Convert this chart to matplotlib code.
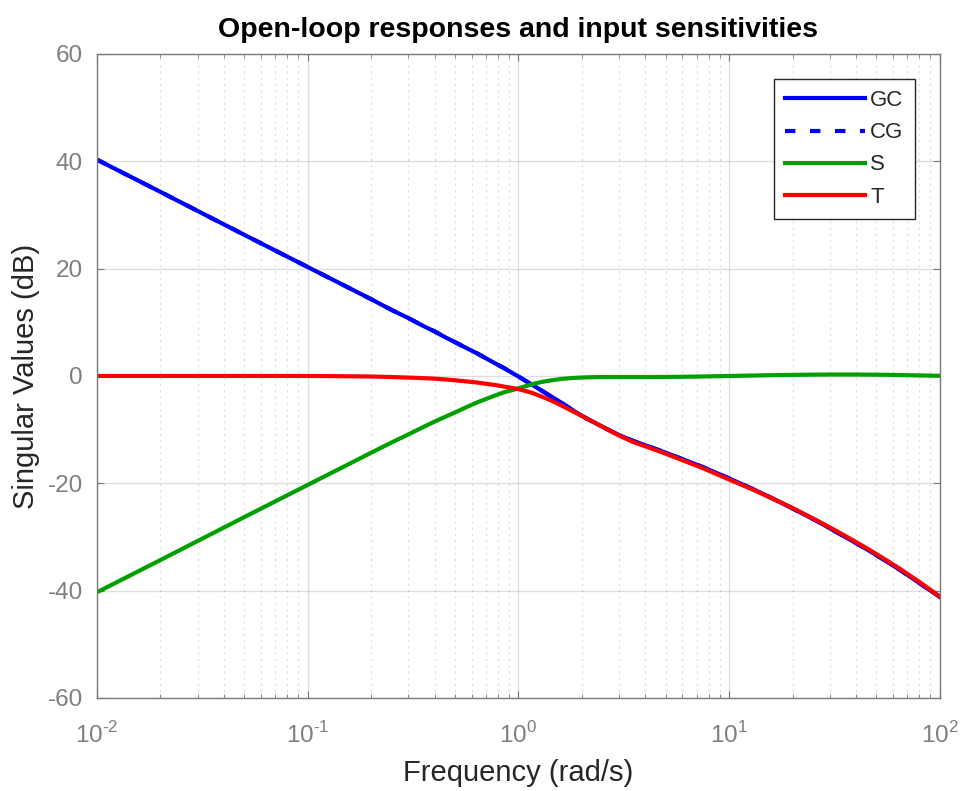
import matplotlib.pyplot as plt
from matplotlib.ticker import LogLocator, NullFormatter, FixedLocator, FixedFormatter

plt.rcParams['font.family'] = ['Liberation Sans', 'DejaVu Sans']
plt.rcParams['axes.unicode_minus'] = False
plt.rcParams['mathtext.fontset'] = 'custom'
plt.rcParams['mathtext.rm'] = 'Liberation Sans'

freq = [0.01, 0.02, 0.05, 0.1, 0.15, 0.2, 0.25, 0.3, 0.35, 0.4, 0.45, 0.5, 0.56, 0.63, 0.7, 0.78,
        0.86, 0.94, 1.0, 1.08, 1.17, 1.26, 1.36, 1.47, 1.6, 1.75, 1.9, 2.1, 2.3, 2.6, 3.0, 3.5, 4.2,
        5.0, 6.0, 7.3, 8.5, 10.0, 13.0, 16.0, 20.0, 26.0, 32.0, 37.4, 45.0, 54.0, 65.0, 80.0, 100.0]

gc = [40.3, 34.3, 26.3, 20.3, 16.8, 14.3, 12.3, 10.8, 9.4, 8.3, 7.2, 6.3, 5.3, 4.3, 3.3, 2.3,
      1.4, 0.5, -0.1, -0.9, -1.7, -2.5, -3.3, -4.1, -5.0, -6.0, -6.9, -7.9, -8.7, -9.8, -11.0, -12.1, -13.2,
      -14.3, -15.5, -16.8, -17.9, -19.1, -21.1, -22.8, -24.7, -27.0, -29.0, -30.5, -32.3, -34.2, -36.2, -38.6, -41.2]

cg = [40.3, 34.3, 26.3, 20.3, 16.8, 14.3, 12.3, 10.8, 9.4, 8.3, 7.2, 6.3, 5.3, 4.3, 3.3, 2.3,
      1.4, 0.5, -0.1, -0.9, -1.7, -2.5, -3.3, -4.1, -5.0, -6.0, -6.9, -7.9, -8.7, -9.8, -11.0, -12.1, -13.2,
      -14.3, -15.5, -16.8, -17.9, -19.1, -21.1, -22.8, -24.7, -27.0, -29.0, -30.5, -32.3, -34.2, -36.2, -38.6, -41.2]

s = [-40.3, -34.3, -26.3, -20.3, -16.8, -14.3, -12.4, -10.9, -9.6, -8.5, -7.6, -6.8, -5.9, -5.0, -4.3, -3.6,
     -3.0, -2.6, -2.3, -1.9, -1.5, -1.2, -0.95, -0.75, -0.55, -0.42, -0.33, -0.26, -0.22, -0.2, -0.2, -0.2, -0.2,
     -0.18, -0.15, -0.1, -0.05, 0.0, 0.08, 0.15, 0.2, 0.25, 0.27, 0.27, 0.25, 0.22, 0.17, 0.1, 0.03]

t = [0.0, 0.0, 0.0, 0.0, -0.05, -0.1, -0.2, -0.3, -0.4, -0.5, -0.65, -0.8, -1.0, -1.2, -1.45, -1.7,
     -2.0, -2.25, -2.45, -2.8, -3.2, -3.7, -4.2, -4.8, -5.5, -6.3, -7.0, -7.9, -8.7, -9.8, -11.1, -12.3, -13.4,
     -14.5, -15.7, -17.0, -18.1, -19.3, -21.2, -22.8, -24.6, -26.9, -28.8, -30.3, -32.1, -34.0, -36.0, -38.4, -41.1]

xticks = [0.01, 0.1, 1, 10, 100]
xticklabels = [r'$10^{\text{-}2}$', r'$10^{\text{-}1}$', r'$10^{0}$', r'$10^{1}$', r'$10^{2}$']
yticks = [-60, -40, -20, 0, 20, 40, 60]

fig = plt.figure(figsize=(9.66, 7.91), dpi=100)
ax = fig.add_axes([0.1004, 0.1176, 0.8726, 0.8142])

ax.semilogx(freq, gc, color='#0000ff', linewidth=3, label='GC')
ax.semilogx(freq, cg, color='#0000ff', linewidth=3, linestyle=(0, (2.5, 3.5)), label='CG')
ax.semilogx(freq, s, color='#00a000', linewidth=3, label='S')
ax.semilogx(freq, t, color='#ff0000', linewidth=3, label='T')

ax.set_xlim(1e-2, 1e2)
ax.set_ylim(-60, 60)
ax.set_yticks(yticks)
ax.xaxis.set_major_locator(FixedLocator(xticks))
ax.xaxis.set_major_formatter(FixedFormatter(xticklabels))
ax.xaxis.set_minor_locator(LogLocator(base=10, subs=range(2, 10), numticks=100))
ax.xaxis.set_minor_formatter(NullFormatter())

ax.grid(True, which='major', color='#262626', alpha=0.15, linewidth=1)
ax.grid(True, which='minor', axis='x', color='#262626', alpha=0.15, linestyle=(0, (1.5, 3)), linewidth=1)

for sp in ax.spines.values():
    sp.set_color('#7a7a7a')
    sp.set_linewidth(1)
ax.tick_params(which='both', direction='in', top=True, right=True, color='#7a7a7a',
               labelsize=17.5, labelcolor='#7f7f7f')
ax.tick_params(axis='x', pad=17)
ax.tick_params(axis='y', pad=10)
ax.tick_params(which='major', length=5)
ax.tick_params(which='minor', length=3)

ax.set_title('Open-loop responses and input sensitivities', fontsize=20.5, fontweight='bold', pad=12)
ax.set_xlabel('Frequency (rad/s)', fontsize=21, color='#262626', labelpad=8)
ax.set_ylabel('Singular Values (dB)', fontsize=21, color='#262626', labelpad=6)

leg = ax.legend(loc='upper right', bbox_to_anchor=(0.97, 0.961), fontsize=16, handlelength=3.6,
                handletextpad=0.25, labelspacing=0.5, fancybox=False, framealpha=1,
                borderpad=0.5, borderaxespad=0.0)
leg.get_frame().set_edgecolor('#262626')
leg.get_frame().set_linewidth(1)
for txt in leg.get_texts():
    txt.set_color('#262626')

fig.savefig('out.png', dpi=100)
